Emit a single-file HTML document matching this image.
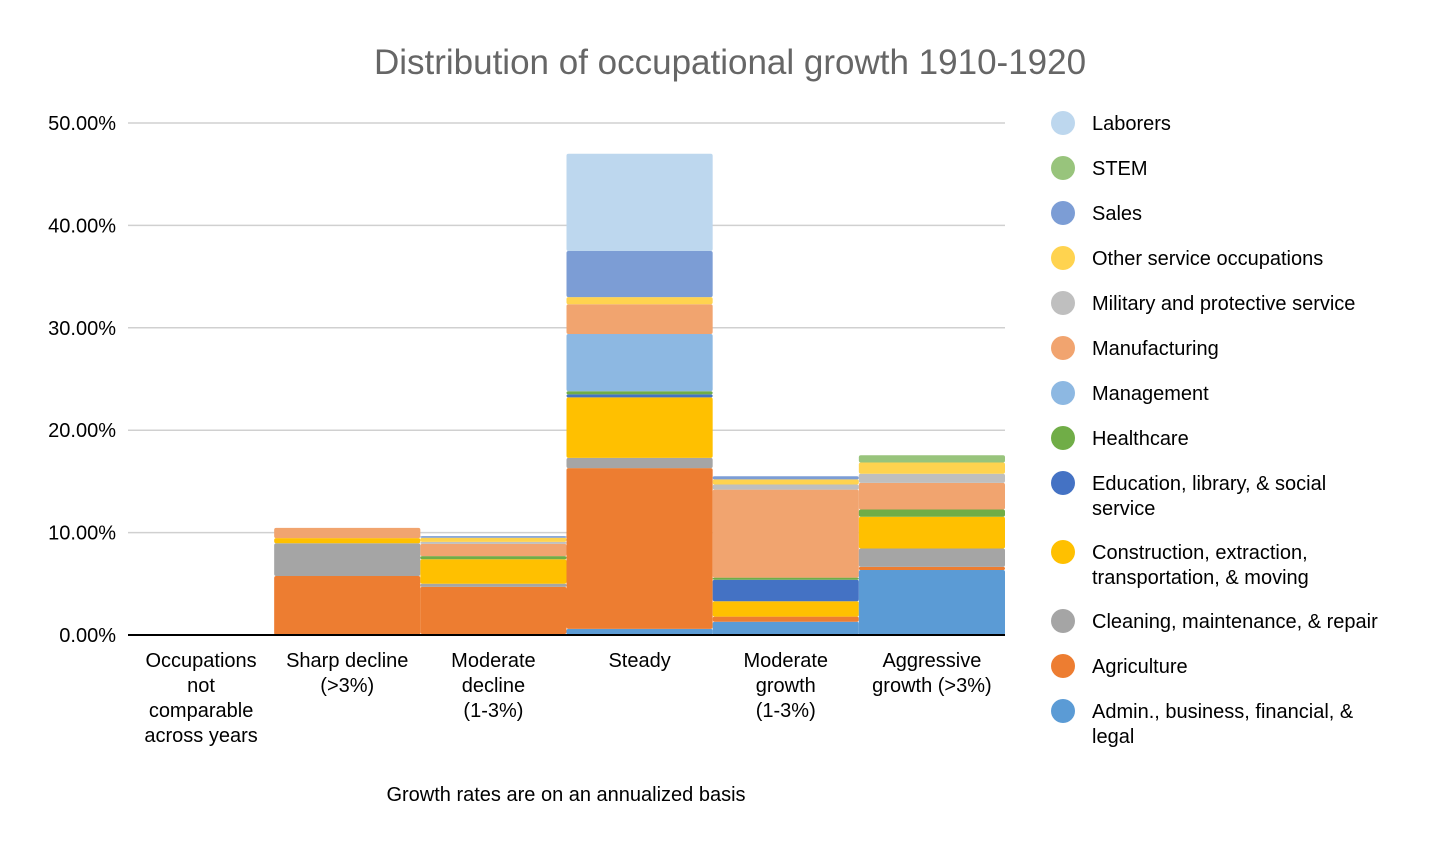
<!DOCTYPE html>
<html><head><meta charset="utf-8"><style>
body{margin:0;background:#fff;}
svg{display:block;font-family:"Liberation Sans",sans-serif;}
</style></head><body>
<svg id="chart" width="1456" height="848" viewBox="0 0 1456 848">
<text x="730" y="74" text-anchor="middle" font-size="35" fill="#666">Distribution of occupational growth 1910-1920</text>
<g id="grid"></g><g id="bars"></g><g id="axis"></g><g id="legend"></g>
<text x="566" y="801" text-anchor="middle" font-size="20" fill="#000">Growth rates are on an annualized basis</text>
</svg>
<script>
const categories=[["Occupations","not","comparable","across years"],["Sharp decline","(>3%)"],["Moderate","decline","(1-3%)"],["Steady"],["Moderate","growth","(1-3%)"],["Aggressive","growth (>3%)"]];
const seriesNames=["Admin., business, financial, & legal","Agriculture","Cleaning, maintenance, & repair","Construction, extraction, transportation, & moving","Education, library, & social service","Healthcare","Management","Manufacturing","Military and protective service","Other service occupations","Sales","STEM","Laborers"];
const legendLabels=[["Admin., business, financial, &","legal"],["Agriculture"],["Cleaning, maintenance, & repair"],["Construction, extraction,","transportation, & moving"],["Education, library, & social","service"],["Healthcare"],["Management"],["Manufacturing"],["Military and protective service"],["Other service occupations"],["Sales"],["STEM"],["Laborers"]];
const colors=["#5b9bd5","#ed7d31","#a5a5a5","#ffc000","#4472c4","#70ad47","#8db8e2","#f1a46f","#bfbfbf","#ffd34f","#7c9dd5","#98c47c","#bdd7ee"];
const admin=[0,0,0.1,0.6,1.3,6.35];
const agriculture=[0,5.76,4.6,15.7,0.5,0.3];
const cleaning=[0,3.2,0.3,1.0,0,1.8];
const construction=[0,0.5,2.4,5.9,1.5,3.1];
const education=[0,0,0,0.3,2.1,0];
const healthcare=[0,0,0.3,0.3,0.2,0.7];
const management=[0,0,0,5.6,0,0];
const manufacturing=[0,1.0,1.2,2.9,8.6,2.6];
const military=[0,0,0.2,0,0.5,0.9];
const otherService=[0,0,0.4,0.7,0.5,1.1];
const sales=[0,0,0.15,4.5,0.3,0];
const stem=[0,0,0,0,0,0.7];
const laborers=[0,0,0,9.5,0,0];
const series=[admin,agriculture,cleaning,construction,education,healthcare,management,manufacturing,military,otherService,sales,stem,laborers];
const yTicks=[0,10,20,30,40,50];
const NS="http://www.w3.org/2000/svg";
const X0=128,X1=1005,Y0=635,Y50=123;
const y=v=>Y0-(v/50)*(Y0-Y50);
const bw=(X1-X0)/categories.length;
const x=i=>X0+i*bw;
function mk(t,a,p){const e=document.createElementNS(NS,t);for(const k in a)e.setAttribute(k,a[k]);p.appendChild(e);return e;}
const grid=document.getElementById('grid');
yTicks.forEach(t=>{
 const l=mk('line',{x1:X0,x2:X1,y1:y(t),y2:y(t),stroke:t===0?'#000':'#d0d0d0','stroke-width':t===0?2:1.5},grid);
 
 
 const tx=mk('text',{x:116,y:y(t)+7,'text-anchor':'end','font-size':20,fill:'#000'},grid);
 tx.textContent=t.toFixed(2)+'%';
 
 
});
const bars=document.getElementById('bars');
categories.forEach((c,i)=>{
 let base=0;
 series.forEach((s,j)=>{
  const v=s[i]; if(v<=0)return;
  const r=mk('rect',{x:x(i),y:y(base+v),width:bw,height:y(base)-y(base+v),fill:colors[j],rx:2},bars);
  
  
  base+=v;
 });
 const t=mk('text',{x:x(i)+bw/2,y:667,'text-anchor':'middle','font-size':20,fill:'#000'},grid);
 
 
 c.forEach((ln,k)=>{const ts=mk('tspan',{x:x(i)+bw/2,dy:k?25:0},t);ts.textContent=ln;});
});
mk('line',{x1:X0,x2:X1,y1:Y0,y2:Y0,stroke:'#000','stroke-width':2},document.getElementById('axis'));
const lg=document.getElementById('legend');
const ly=[711,666,621,552,483,438,393,348,303,258,213,168,123];
legendLabels.forEach((lbl,j)=>{
 const g=mk('g',{},lg);
 
 
 mk('circle',{cx:1063,cy:ly[j],r:12,fill:colors[j]},g);
 const t=mk('text',{x:1092,y:ly[j]+7,'font-size':20,fill:'#000'},g);
 lbl.forEach((ln,k)=>{const ts=mk('tspan',{x:1092,dy:k?25:0},t);ts.textContent=ln;});
});
</script>
</body></html>
